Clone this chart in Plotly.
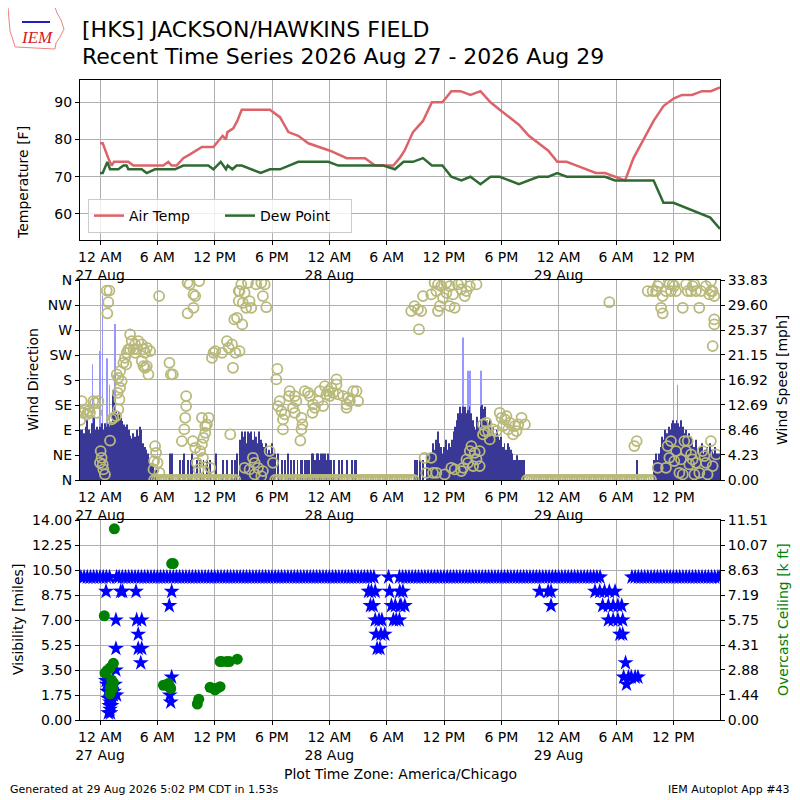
import pandas as pd
import plotly.graph_objects as go

# all times are minutes after 2026-08-27 00:00 (America/Chicago)
BASE = pd.Timestamp("2026-08-27 00:00")

temp_min = [0, 17, 52, 73, 88, 178, 209, 398, 429, 450, 481, 523, 565, 600, 640, 712, 733,
            770, 791, 800, 837, 862, 890, 1067, 1130, 1183, 1245, 1308, 1444, 1549, 1664,
            1727, 1842, 1881, 1912, 1965, 2028, 2084, 2150, 2206, 2263, 2326, 2389, 2452,
            2510, 2573, 2630, 2693, 2752, 2815, 2871, 2930, 2993, 3052, 3113, 3171, 3234,
            3297, 3350, 3413, 3476, 3538, 3601, 3654, 3717, 3780, 3836, 3893]
temp_f = [79, 79, 75, 73, 74, 74, 73, 73, 74, 73, 73, 75, 76, 77, 78, 78, 79,
          81, 80, 82, 83, 85, 88, 88, 86, 82, 81, 79, 77, 75, 75,
          73, 73, 75, 77, 82, 85, 90, 90, 93, 93, 92, 93, 90,
          88, 86, 84, 81, 79, 77, 74, 74, 73, 72, 71, 71, 70,
          69, 75, 80, 85, 89, 91, 92, 92, 93, 93, 94]

dewp_min = [0, 17, 46, 63, 115, 147, 167, 178, 262, 293, 345, 471, 523, 680, 712, 758, 791,
            802, 831, 858, 890, 1009, 1067, 1130, 1245, 1434, 1496, 1779, 1852, 1881, 1906,
            1965, 2028, 2084, 2150, 2206, 2269, 2326, 2389, 2452, 2510, 2630, 2752, 2815,
            2871, 2930, 3171, 3234, 3476, 3538, 3601, 3832, 3893]
dewp_f = [71, 71, 74, 72, 72, 73, 73, 72, 72, 71, 72, 72, 73, 73, 72, 74, 72,
          73, 72, 73, 73, 71, 72, 72, 74, 74, 73, 73, 72, 73, 74,
          74, 75, 73, 73, 70, 69, 70, 68, 70, 70, 68, 70, 70,
          71, 70, 70, 69, 69, 63, 63, 59, 56]

wind_min = [-120, -110, -100, -90, -80, -70, -60, -50, -40, -30, -20, -10,
            0, 10, 20, 30, 40, 50, 60, 70, 80, 90, 100, 110, 120, 130, 140,
            150, 160, 170, 180, 190, 200, 210, 220, 230, 240, 250, 260,
            270, 280, 290, 300, 310, 320, 330, 350, 440, 450,
            500, 520, 530, 550, 570, 580, 610, 630, 650, 670, 690,
            730, 770, 800, 830, 850, 860,
            880, 890, 900, 910, 920, 930, 940, 950, 960, 970, 980, 990, 1000, 1010, 1020,
            1030, 1040, 1050, 1060, 1070, 1080, 1090, 1100,
            1120, 1140, 1160, 1180, 1200,
            1220, 1240, 1260, 1270, 1290, 1300, 1310, 1330, 1340, 1350, 1360, 1370, 1380,
            1390, 1400, 1410, 1420, 1430, 1440, 1450,
            1470, 1500, 1520, 1550, 1580, 1600, 1610,
            1980, 1990, 2010, 2030, 2050, 2060, 2070, 2080,
            2090, 2100, 2110, 2120, 2130, 2140, 2150, 2160, 2170, 2180, 2190, 2200, 2210,
            2220, 2230, 2240, 2250, 2260, 2270, 2280, 2290, 2300, 2310, 2320, 2330,
            2340, 2350, 2360, 2370, 2380, 2390, 2400, 2410, 2420,
            2430, 2440, 2450, 2460, 2470, 2480, 2490, 2500,
            2510, 2520, 2530, 2540, 2550, 2560, 2570, 2580, 2590,
            2600, 2610, 2620, 2630, 2640, 2650, 2660, 3370,
            3480, 3490, 3500, 3510, 3520, 3530, 3540, 3550, 3560, 3570, 3580, 3590,
            3600, 3610, 3620, 3630, 3640, 3650, 3660, 3670, 3680, 3690, 3700, 3710,
            3720, 3730, 3740, 3750, 3760, 3770, 3780, 3790, 3800, 3810, 3820, 3830,
            3840, 3850, 3860, 3870, 3880, 3890]
wind_mph = [8.5, 8.5, 7.9, 9.0, 10.1, 8.5, 7.9, 9.6, 10.7, 8.5, 9.0, 8.5,
            9.0, 9.6, 8.5, 9.6, 9.0, 9.6, 9.0, 9.6, 15.2, 14.1, 11.5, 11.0, 11.5, 10.5, 10.0,
            9.4, 9.0, 9.4, 8.5, 7.5, 7.0, 7.9, 7.3, 8.5, 7.5, 9.0, 8.5,
            6.2, 5.6, 5.1, 4.5, 3.4, 2.8, 2.8, 1.7, 4.5, 4.5,
            3.4, 3.4, 4.5, 3.4, 3.4, 4.5, 3.4, 3.4, 3.4, 3.4, 3.4,
            4.5, 3.4, 3.4, 3.4, 3.4, 4.5,
            6.8, 8.2, 7.3, 8.2, 6.2, 8.2, 7.9, 8.2, 6.8, 8.2, 7.3, 6.2, 8.2, 6.8, 6.2,
            5.6, 6.2, 4.5, 5.1, 4.5, 6.2, 4.5, 4.5,
            4.5, 3.4, 3.4, 4.5, 3.4,
            3.4, 3.4, 3.4, 3.4, 3.4, 3.4, 3.4, 4.5, 4.5, 3.4, 4.5, 4.5, 3.4,
            4.5, 4.5, 4.5, 3.4, 4.5, 3.4, 3.4,
            3.4, 3.4, 3.4, 3.4, 3.4, 3.4, 3.4,
            3.4, 3.4, 3.4, 3.4, 4.5, 4.5, 4.5, 4.5,
            6.2, 5.1, 6.8, 8.2, 6.2, 5.6, 4.5, 5.6, 6.8, 5.1, 6.2, 5.6, 6.8,
            8.2, 9.0, 10.1, 11.3, 12.4, 11.3, 12.4, 12.4, 11.3, 11.8, 12.4, 11.3,
            10.1, 9.0, 8.5, 10.7, 9.0, 12.4, 12.7, 12.0, 12.4,
            10.1, 9.6, 10.1, 8.5, 9.0, 7.3, 8.5, 7.3,
            6.8, 7.3, 5.6, 6.2, 5.1, 6.2, 5.6, 5.1, 4.5,
            3.4, 3.4, 4.2, 3.4, 3.4, 3.4, 3.4, 3.4,
            3.4, 4.5, 3.4, 4.5, 5.6, 7.3, 6.8, 8.5, 7.9, 9.0, 8.5, 9.6,
            10.1, 9.6, 10.1, 9.6, 9.0, 10.1, 9.0, 7.9, 8.5, 7.3, 7.9, 7.3,
            6.2, 5.6, 6.8, 5.1, 4.5, 5.6, 6.2, 4.5, 5.1, 5.6, 4.5, 6.2,
            5.1, 4.5, 5.6, 4.5, 4.5, 4.5]

gust_min = [-48, 0, 15, 45, 60, 96, 2280, 2310, 2322, 2394, 3627]
gust_mph = [19.6, 21.8, 31.2, 20.6, 16.1, 26.4, 24.1, 18.5, 18.5, 18.5, 16.1]

drct_min = [-124, -115, -105, -94, -84, -73, -63, -42, -31, -21, -10,
            0, 4, 10, 17, 21, 31,
            42, 59, 52, 46, 63, 84, 101, 73,
            115, 122, 111, 126, 136, 115, 105, 126,
            147, 157, 168, 164, 178,
            189, 199, 210, 220, 231, 241, 189, 220,
            262, 273, 283, 294, 315, 262, 283, 304, 273, 294,
            346, 352, 340, 361, 336, 373, 371,
            436, 445, 457,
            514, 529, 535, 541, 541, 550, 562, 587, 598, 587, 550, 583, 598,
            608, 619, 629, 640, 650, 661, 671, 682, 661, 640, 646, 655, 692, 623,
            703, 713, 724, 766, 797, 808, 829, 850, 835, 860, 843, 871, 871, 818,
            887, 908, 929, 939, 918, 950, 981, 1013, 1034, 1023, 1044, 897, 876, 893, 876,
            1114, 1107, 1128, 1118, 1139, 1149, 1160, 1191, 1187, 1223, 1212, 1223,
            1265, 1271, 1265, 1258, 1149, 1233,
            1286, 1307, 1317, 1338, 1334, 1349, 1370, 1380, 1401, 1412, 1422, 1432,
            1443, 1453, 1464, 1485, 1485, 1495,
            1527, 1548, 1558, 1569, 1590, 1611, 1621, 1548,
            960, 971, 908, 939, 992, 1023, 1065, 1086, 1013, 971,
            1954, 1975, 1996, 2017, 2028, 2080, 2101, 2122, 2122, 2133, 2154, 2175,
            2196, 2217, 2227, 2248, 2269, 2290, 2301, 2364, 2196, 2003, 2112, 2175,
            2269, 2322, 2143,
            2038, 2080, 2049, 2091, 2112, 2164, 2206, 2227, 2269, 2280,
            2332, 2322, 2301, 2311, 2353, 2364, 2384, 2384, 2343,
            2405, 2416, 2405, 2426, 2447, 2468, 2489, 2437,
            2510, 2521, 2542, 2573, 2563, 2594, 2605, 2615, 2626, 2647, 2668, 2552, 2531,
            3198, 3439, 3470, 3502, 3512, 3533, 3523, 3533, 3554, 3575, 3585, 3606,
            3617, 3659, 3680, 3690, 3721, 3742, 3763, 3774, 3805, 3826, 3847, 3857,
            3857, 3857, 3847, 3836,
            3355, 3370, 3502, 3554, 3564, 3585, 3606, 3617, 3638, 3659, 3669, 3680,
            3700, 3711, 3721, 3732, 3742, 3763, 3784, 3795, 3805, 3815, 3836, 3847,
            3868, 3575, 3648, 3690,
            3491, 3596, 3711, 3836, 3732]
drct_deg = [108, 142, 121, 127, 118, 124, 121, 142, 139, 121, 142,
            31, 52, 40, 28, 19, 10,
            341, 341, 320, 300, 71, 112, 115, 109,
            127, 145, 157, 166, 178, 184, 190, 196,
            211, 220, 229, 208, 235,
            262, 250, 235, 229, 235, 250, 235, 244,
            244, 235, 229, 238, 232, 214, 202, 190, 205, 205,
            61, 49, 34, 31, 19, 13, 331,
            211, 190, 190,
            70, 91, 112, 133, 151, 355, 352, 334, 331, 310, 300, 70, 58,
            31, 19, 52, 64, 76, 85, 100, 112, 97, 112, 40, 16, 22, 358,
            220, 229, 232, 229, 250, 238, 244, 229, 202, 292, 289, 340, 322, 82,
            352, 337, 355, 322, 310, 310, 352, 355, 352, 331, 311, 319, 340, 280, 232,
            200, 181, 142, 133, 124, 109, 118, 160, 151, 151, 130, 121,
            112, 100, 91, 71, 91, 142,
            160, 157, 151, 136, 121, 130, 142, 160, 133, 169, 154, 160,
            151, 166, 157, 181, 172, 154,
            151, 136, 148, 142, 160, 160, 142, 130,
            40, 31, 22, 19, 22, 16, 52, 31, 7, 10,
            304, 313, 307, 304, 331, 334, 355, 352, 304, 313, 328, 337,
            349, 334, 310, 352, 343, 331, 340, 352, 313, 271, 340, 355,
            355, 349, 349,
            40, 40, 13, 13, 13, 10, 22, 19, 16, 22,
            61, 52, 37, 31, 49, 37, 52, 25, 25,
            100, 88, 82, 103, 73, 91, 88, 88,
            121, 112, 109, 103, 91, 82, 97, 88, 100, 112, 100, 115, 97,
            320, 340, 340, 349, 355, 331, 310, 300, 340, 352, 340, 349,
            340, 310, 352, 340, 349, 340, 310, 340, 349, 334, 340, 331,
            289, 280, 241, 358,
            61, 70, 22, 22, 61, 70, 34, 52, 13, 10, 70, 52,
            28, 46, 37, 10, 31, 13, 52, 43, 31, 10, 70, 25,
            46, 40, 37, 70,
            340, 352, 340, 340, 352]

# calm reports: direction drawn as 0
calm_min = [340, 355, 370, 385, 400, 415, 430, 445, 460, 475, 490, 505, 520, 535, 550,
            565, 580, 595, 610, 625, 640, 655, 670, 685, 700, 715, 730, 745, 760, 775,
            790, 805, 820, 835, 850,
            1100, 1115, 1130, 1145, 1160, 1175, 1190, 1205, 1220, 1235, 1250, 1265, 1280,
            1295, 1310, 1325, 1340, 1355, 1370, 1385, 1400, 1415, 1430, 1445, 1460, 1475,
            1490, 1505, 1520, 1535, 1550, 1565, 1580, 1595, 1610, 1625, 1640, 1655, 1670,
            1685, 1700, 1715, 1730, 1745, 1760, 1775, 1790, 1805, 1820, 1835, 1850, 1865,
            1880, 1895, 1910, 1925, 1940, 1955, 1970,
            2680, 2695, 2710, 2725, 2740, 2755, 2770, 2785, 2800, 2815, 2830, 2845, 2860,
            2875, 2890, 2905, 2920, 2935, 2950, 2965, 2980, 2995, 3010, 3025, 3040, 3055,
            3070, 3085, 3100, 3115, 3130, 3145, 3160, 3175, 3190, 3205, 3220, 3235, 3250,
            3265, 3280, 3295, 3310, 3325, 3340, 3355, 3370, 3385, 3400, 3415, 3430, 3445,
            3460]

# visibility reports of 10 miles
vis10_min = [-120, -100, -80, -60, -40, -20, 0, 20, 40, 60, 104,
             120, 140, 160, 180, 200, 220, 240, 260, 280, 300, 320, 340, 360, 380, 400,
             420, 440, 460, 480, 500, 520, 540, 560, 580, 600, 620, 640, 660, 680, 700,
             720, 740, 760, 780, 800, 820, 840, 860, 880, 900, 920, 940, 960, 980, 1000,
             1020, 1040, 1060, 1080, 1100, 1120, 1140, 1160, 1180, 1200, 1220, 1240, 1260,
             1280, 1300, 1320, 1340, 1360, 1380, 1400, 1420, 1440, 1460, 1480, 1500, 1520,
             1540, 1560, 1580, 1600, 1620, 1640, 1660, 1680, 1700, 1720,
             1812, 1880, 1900, 1920, 1940, 1960, 1980, 2000, 2020, 2040, 2060, 2080, 2100,
             2120, 2140, 2160, 2180, 2200, 2220, 2240, 2260, 2280, 2300, 2320, 2340, 2360,
             2380, 2400, 2420, 2440, 2460, 2480, 2500, 2520, 2540, 2560, 2580, 2600, 2620,
             2640, 2660, 2680, 2700, 2720, 2740, 2760, 2780, 2800, 2820, 2840, 2860, 2880,
             2900, 2920, 2940, 2960, 2980, 3000, 3020, 3040, 3060, 3080, 3100, 3120, 3140,
             3340, 3360, 3380, 3400, 3420, 3440, 3460, 3480, 3500, 3520, 3540, 3560, 3580,
             3600, 3620, 3640, 3660, 3680, 3700, 3720, 3740, 3760, 3780, 3800, 3820, 3840,
             3860, 3880, 3893]
vis_min = [38, 42, 46, 52, 59, 63, 66, 72, 78, 84, 88, 94, 100, 52, 63, 38, 104, 100, 100,
           130, 142, 226, 230, 262, 240, 240, 262, 256,
           435, 450, 450, 438, 444,
           1686, 1704, 1728, 1698, 1716, 1728, 1752, 1770, 1734, 1764, 1788, 1740, 1758,
           1818, 1830, 1842, 1854, 1860, 1884, 1882, 1890, 1880, 1902, 1914,
           2760, 2814, 2832, 2832,
           3108, 3138, 3168, 3198, 3234, 3156, 3192, 3222, 3252, 3276,
           3192, 3222, 3252, 3282, 3264, 3282, 3300, 3288, 3318, 3336, 3360, 3378, 3306]
vis_mi = [9, 2.5, 2.0, 1.5, 1.0, 0.75, 0.5, 1.0, 1.5, 1.75, 2.0, 2.5, 3.5, 0.5, 1.25, 2.75, 1.75, 7, 5,
          9, 9, 9, 7, 7, 6, 5, 5, 4,
          8, 9, 3, 1.75, 1.25,
          9, 9, 9, 8, 8, 7, 7, 7, 6, 6, 6, 5, 5,
          9, 8, 7, 8, 7, 8, 9, 8, 7, 9, 8,
          9, 9, 9, 8,
          9, 9, 9, 9, 9, 8, 8, 8, 8, 8,
          7, 7, 7, 7, 6, 6, 4, 3, 3, 3, 3, 3, 2.5]

ceil_min = [27, 90, 31, 45, 63, 84, 73, 84, 80, 63, 67,
            398, 419, 429, 440, 444, 450, 460,
            611, 620, 691, 712, 722, 733, 754, 754, 764, 795, 812, 862]
ceil_kft = [6.0, 11.0, 2.7, 2.85, 3.0, 3.26, 2.3, 2.15, 1.8, 1.5, 1.9,
            2.0, 2.0, 2.1, 1.9, 1.8, 9.0, 9.0,
            0.92, 1.2, 1.88, 1.82, 1.73, 1.82, 1.92, 3.36, 3.36, 3.36, 3.36, 3.5]

tick_times = ["2026-08-27 00:00", "2026-08-27 06:00", "2026-08-27 12:00", "2026-08-27 18:00",
              "2026-08-28 00:00", "2026-08-28 06:00", "2026-08-28 12:00", "2026-08-28 18:00",
              "2026-08-29 00:00", "2026-08-29 06:00", "2026-08-29 12:00"]
tick_text = ["12 AM<br>27 Aug", "6 AM", "12 PM", "6 PM", "12 AM<br>28 Aug", "6 AM",
             "12 PM", "6 PM", "12 AM<br>29 Aug", "6 AM", "12 PM"]
temp_ticks = [60, 70, 80, 90]
drct_ticks = [0, 45, 90, 135, 180, 225, 270, 315, 360]
drct_labels = ["N", "NE", "E", "SE", "S", "SW", "W", "NW", "N"]
speed_ticks = [0, 4.23, 8.46, 12.69, 16.92, 21.15, 25.37, 29.60, 33.83]
vis_ticks = [0, 1.75, 3.5, 5.25, 7.0, 8.75, 10.5, 12.25, 14.0]
ceil_ticks = [0, 1.44, 2.88, 4.31, 5.75, 7.19, 8.63, 10.07, 11.51]

X_RANGE = ["2026-08-26 21:54:24", "2026-08-29 16:53:00"]
FONT = "DejaVu Sans"
FS = 14
PAGE_OFFSET = 8  # the page body margin shifts the figure by this many pixels


def at(mins):
    return [BASE + pd.Timedelta(minutes=m) for m in mins]


def px(x):
    return (x - PAGE_OFFSET) / 800.0


def py(y):
    return 1 - (y - PAGE_OFFSET) / 800.0


fig = go.Figure()

fig.add_trace(go.Scatter(x=at(temp_min), y=temp_f, mode="lines", name="Air Temp",
                         line=dict(color="#dc6369", width=2.5), xaxis="x", yaxis="y"))
fig.add_trace(go.Scatter(x=at(dewp_min), y=dewp_f, mode="lines", name="Dew Point",
                         line=dict(color="#2f6a32", width=2.5), xaxis="x", yaxis="y"))

fig.add_trace(go.Bar(x=at(gust_min), y=gust_mph, width=4 * 60000, marker_color="#9896ff",
                     marker_line_width=0, showlegend=False, xaxis="x2", yaxis="y2"))
fig.add_trace(go.Bar(x=at(wind_min), y=wind_mph, width=6 * 60000, marker_color="#3a3897",
                     marker_line_width=0, showlegend=False, xaxis="x2", yaxis="y2"))
fig.add_trace(go.Scatter(x=at(drct_min + calm_min), y=drct_deg + [0] * len(calm_min),
                         mode="markers", showlegend=False, xaxis="x2", yaxis="y4",
                         marker=dict(symbol="circle-open", size=10, color="#b9b97b",
                                     line=dict(width=1.8, color="#b9b97b"))))

fig.add_trace(go.Scatter(x=at(vis10_min + vis_min), y=[10] * len(vis10_min) + vis_mi,
                         mode="markers", showlegend=False, xaxis="x3", yaxis="y3",
                         marker=dict(symbol="star", size=12, color="#0000ff",
                                     line=dict(width=0))))
fig.add_trace(go.Scatter(x=at(ceil_min), y=ceil_kft, mode="markers", showlegend=False,
                         xaxis="x3", yaxis="y5",
                         marker=dict(symbol="circle", size=11, color="#008000",
                                     line=dict(width=0))))

axis_style = dict(showline=True, linecolor="black", linewidth=1, mirror=True,
                  ticks="outside", ticklen=4, tickcolor="black", automargin=False,
                  tickfont=dict(family=FONT, size=FS, color="black"),
                  gridcolor="#b0b0b0", gridwidth=1, zeroline=False)
x_style = dict(axis_style, type="date", range=X_RANGE, tickvals=tick_times,
               ticktext=tick_text, showgrid=True, domain=[px(80), px(720)])

annotations = [
    dict(x=px(80), y=py(30), text="[HKS] JACKSON/HAWKINS FIELD", xanchor="left",
         yanchor="middle", font=dict(size=22)),
    dict(x=px(80), y=py(56), text="Recent Time Series 2026 Aug 27 - 2026 Aug 29",
         xanchor="left", yanchor="middle", font=dict(size=22)),
    dict(x=px(23), y=py(183), text="Temperature [F]", textangle=-90),
    dict(x=px(33), y=py(380), text="Wind Direction", textangle=-90),
    dict(x=px(782), y=py(380), text="Wind Speed [mph]", textangle=-90),
    dict(x=px(18), y=py(620), text="Visibility [miles]", textangle=-90),
    dict(x=px(783), y=py(620), text="Overcast Ceiling [k ft]", textangle=-90,
         font=dict(color="#008000")),
    dict(x=px(400), y=py(774), text="Plot Time Zone: America/Chicago"),
    dict(x=px(8), y=py(789), text="Generated at 29 Aug 2026 5:02 PM CDT in 1.53s",
         xanchor="left", font=dict(size=11)),
    dict(x=px(792), y=py(789), text="IEM Autoplot App #43", xanchor="right",
         font=dict(size=11)),
    dict(x=px(37), y=py(37), text="<i>IEM</i>", font=dict(family="Liberation Serif",
                                                          size=17, color="#d42020")),
]
for a in annotations:
    a.setdefault("xref", "paper")
    a.setdefault("yref", "paper")
    a.setdefault("showarrow", False)
    a.setdefault("xanchor", "center")
    a.setdefault("yanchor", "middle")
    f = dict(family=FONT, size=FS, color="black")
    f.update(a.get("font", {}))
    a["font"] = f

# small IEM logo outline
logo_pts = [(8, 7), (55, 7), (57, 13), (61, 20), (64, 29), (60, 37), (56, 43), (55, 49),
            (15, 47), (13, 40), (10, 31), (9, 20)]
logo_path = "M " + " L ".join("%.4f,%.4f" % (px(a), py(b)) for a, b in logo_pts) + " Z"
shapes = [
    dict(type="path", path=logo_path, xref="paper", yref="paper",
         line=dict(color="#f08080", width=1)),
    dict(type="line", xref="paper", yref="paper", x0=px(22), x1=px(50), y0=py(22),
         y1=py(22), line=dict(color="#2020c0", width=2)),
]

fig.update_layout(
    width=800, height=800,
    margin=dict(l=0, r=0, t=0, b=0, autoexpand=False),
    paper_bgcolor="white", plot_bgcolor="white",
    font=dict(family=FONT, size=FS, color="black"),
    barmode="overlay",
    showlegend=True,
    legend=dict(x=px(88), y=py(233), xanchor="left", yanchor="bottom", orientation="h",
                entrywidth=86, entrywidthmode="pixels",
                bgcolor="rgba(255,255,255,0.8)", bordercolor="#cccccc", borderwidth=1,
                font=dict(family=FONT, size=FS)),
    xaxis=dict(x_style, anchor="y"),
    yaxis=dict(axis_style, domain=[py(240), py(80)], range=[53, 96], tickvals=temp_ticks,
               showgrid=True),
    xaxis2=dict(x_style, anchor="y2"),
    yaxis2=dict(axis_style, domain=[py(480), py(280)], range=[0, 33.83], side="right",
                anchor="x2", tickvals=speed_ticks,
                ticktext=["%.2f" % v for v in speed_ticks], showgrid=True),
    yaxis4=dict(axis_style, overlaying="y2", side="left", anchor="x2", range=[0, 360],
                tickvals=drct_ticks, ticktext=drct_labels, showgrid=False),
    xaxis3=dict(x_style, anchor="y3"),
    yaxis3=dict(axis_style, domain=[py(720), py(520)], range=[0, 14], anchor="x3",
                tickvals=vis_ticks, ticktext=["%.2f" % v for v in vis_ticks],
                showgrid=True),
    yaxis5=dict(axis_style, overlaying="y3", side="right", anchor="x3", range=[0, 11.51],
                tickvals=ceil_ticks, ticktext=["%.2f" % v for v in ceil_ticks],
                showgrid=False),
    annotations=annotations,
    shapes=shapes,
)

fig.write_html("out.html")
